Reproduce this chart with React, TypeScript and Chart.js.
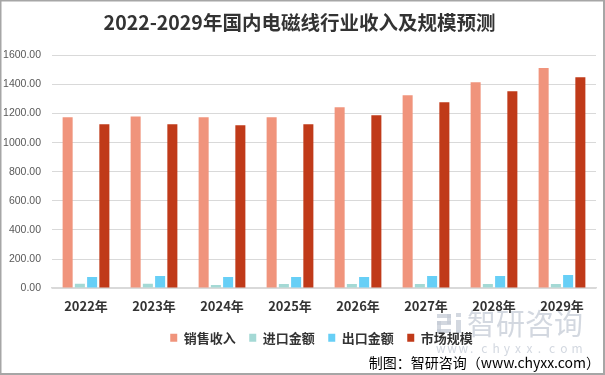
import React, { useEffect, useRef } from "react";
import { Chart, registerables } from "chart.js";

Chart.register(...registerables);

const categories = ["2022年", "2023年", "2024年", "2025年", "2026年", "2027年", "2028年", "2029年"];
const seriesNames = ["销售收入", "进口金额", "出口金额", "市场规模"];
const salesRevenue = [1175, 1180, 1175, 1175, 1243, 1326, 1416, 1513];
const importAmount = [30, 30, 21, 28, 28, 28, 28, 28];
const exportAmount = [76, 83, 76, 76, 76, 83, 83, 90];
const marketSize = [1126, 1126, 1119, 1126, 1188, 1278, 1354, 1450];
const seriesColors = ["#F0947C", "#A4D9D5", "#67CFF6", "#C03A19"];

const titleText = "2022-2029年国内电磁线行业收入及规模预测";
const sourceText = "制图：智研咨询（www.chyxx.com）";
const watermarkText = "智研咨询";
const watermarkUrl = "www.chyxx.com";

const CJK = '"Noto Sans CJK SC", "Noto Sans", sans-serif';

export default function App() {
  const ref = useRef<HTMLCanvasElement>(null);

  useEffect(() => {
    const canvas = ref.current;
    if (!canvas) return;

    const decor = {
      id: "decor",
      afterLayout(chart: any) {
        if (chart.legend) {
          chart.legend.left += 44;
        }
        chart.boxes.forEach((b: any) => {
          if (b.options && b.options.text === sourceText) {
            b.left += 4;
            b.right += 4;
          }
        });
      },
      beforeDraw(chart: any) {
        const ctx = chart.ctx;
        ctx.save();
        ctx.fillStyle = "#ffffff";
        ctx.fillRect(0, 0, chart.width, chart.height);
        // watermark
        ctx.fillStyle = "rgba(196,203,214,0.75)";
        ctx.fillRect(437, 314, 14, 4);
        ctx.fillRect(447, 314, 4, 10);
        ctx.fillRect(437, 321, 14, 4);
        ctx.fillRect(437, 321, 4, 12);
        ctx.fillRect(437, 329, 14, 4);
        ctx.fillRect(456, 320, 5, 13);
        ctx.fillRect(456, 313, 5, 4);
        ctx.font = "29px " + CJK;
        ctx.textBaseline = "middle";
        ctx.textAlign = "left";
        ctx.fillText(watermarkText, 467, 324);
        ctx.font = "12px " + CJK;
        const chars = watermarkUrl.split("");
        chars.forEach((c, i) => {
          ctx.fillText(c, 436 + i * 11.3, 348);
        });
        ctx.restore();
      },
      afterDraw(chart: any) {
        const ctx = chart.ctx;
        ctx.save();
        ctx.fillStyle = "#a6a6a6";
        ctx.fillRect(0, 0, chart.width, 1.5);
        ctx.fillRect(0, 0, 1.5, chart.height);
        ctx.fillRect(chart.width - 2, 0, 2, chart.height);
        ctx.fillRect(0, chart.height - 2, chart.width, 2);
        ctx.restore();
      },
    };

    const chart = new Chart(canvas, {
      type: "bar",
      data: {
        labels: categories,
        datasets: [salesRevenue, importAmount, exportAmount, marketSize].map((d, i) => ({
          label: seriesNames[i],
          data: d,
          backgroundColor: seriesColors[i],
          borderWidth: 0,
          categoryPercentage: 0.72,
          barPercentage: 0.82,
        })),
      },
      options: {
        responsive: false,
        devicePixelRatio: 1,
        animation: false,
        layout: { padding: { left: 3, right: 9, top: 0, bottom: 0 } },
        plugins: {
          title: {
            display: true,
            text: titleText,
            color: "#333333",
            font: { family: CJK, size: 19.5, weight: "bold", lineHeight: 1.2 },
            padding: { top: 11, bottom: 21 },
          },
          subtitle: {
            display: true,
            text: sourceText,
            position: "bottom",
            align: "end",
            color: "#000000",
            font: { family: CJK, size: 14, weight: "normal", lineHeight: 1.2 },
            padding: { top: 0, bottom: 4 },
          },
          legend: {
            position: "bottom",
            labels: {
              boxWidth: 7,
              boxHeight: 8,
              padding: 13.5,
              color: "#333333",
              font: { family: CJK, size: 13, weight: "bold" },
            },
          },
          tooltip: { enabled: false },
        },
        scales: {
          x: {
            grid: { display: false, drawTicks: false },
            border: { display: true, color: "#d9d9d9", width: 1.5 },
            ticks: {
              color: "#333333",
              padding: 10,
              font: { family: CJK, size: 13, weight: "bold", lineHeight: 1.2 },
            },
            afterFit(scale: any) {
              scale.height -= 6;
            },
          },
          y: {
            min: 0,
            max: 1600,
            grid: { color: "#d9d9d9", lineWidth: 1, drawTicks: false },
            border: { display: false },
            ticks: {
              stepSize: 200,
              padding: 11,
              color: "#595959",
              font: { family: '"Liberation Sans", Arial, sans-serif', size: 10.5 },
              callback: (v: any) => Number(v).toFixed(2),
            },
            afterFit(scale: any) {
              scale.width = 49;
            },
          },
        },
      },
      plugins: [decor],
    });

    return () => chart.destroy();
  }, []);

  return (
    <div style={{ position: "fixed", left: 0, top: 0, width: 605, height: 375, background: "#fff" }}>
      <canvas ref={ref} width={605} height={375} style={{ display: "block", width: 605, height: 375 }} />
    </div>
  );
}
